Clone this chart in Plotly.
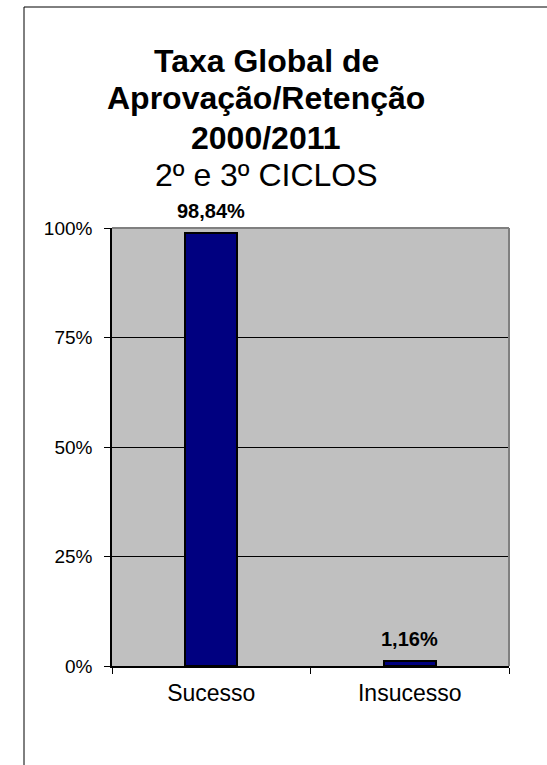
import plotly.graph_objects as go

categories = ["Sucesso", "Insucesso"]
values = [98.84, 1.16]
y_ticks = [0, 25, 50, 75, 100]
y_tick_labels = ["0%", "25%", "50%", "75%", "100%"]
title_bold = ["Taxa Global de", "Aprovação/Retenção", "2000/2011"]
subtitle = "2º e 3º CICLOS"

W, H = 547, 765
L, R, T, B = 112, 509, 228, 666  # plot area in pixels
PW, PH = R - L, B - T


def px_x(p):
    return (p - L) / PW


def px_y(p):
    return (B - p) / PH


FONT = "Liberation Sans, Arial, sans-serif"

fig = go.Figure()
fig.add_trace(go.Bar(
    x=categories, y=values, width=0.26,
    marker=dict(color="#000080", line=dict(color="black", width=2)),
    hoverinfo="skip",
))

labels = [f"{v:.2f}".replace(".", ",") + "%" for v in values]
for c, v, t in zip(categories, values, labels):
    fig.add_annotation(x=c, y=v, xref="x", yref="y", text=f"<b>{t}</b>",
                       showarrow=False, yanchor="middle", yshift=22,
                       font=dict(family=FONT, size=20, color="black"))

title_y = [61.5, 98.5, 137.5, 175]
for i, line in enumerate(title_bold):
    fig.add_annotation(x=px_x(266), y=px_y(title_y[i]), xref="paper", yref="paper",
                       text=f"<b>{line}</b>", showarrow=False, xanchor="center", yanchor="middle",
                       font=dict(family=FONT, size=32, color="black"))
fig.add_annotation(x=px_x(266), y=px_y(title_y[3]), xref="paper", yref="paper",
                   text=subtitle, showarrow=False, xanchor="center", yanchor="middle",
                   font=dict(family=FONT, size=32, color="black"))

# outer chart border (left and top visible)
fig.add_shape(type="rect", xref="paper", yref="paper",
              x0=px_x(24), y0=px_y(800), x1=px_x(600), y1=px_y(7),
              line=dict(color="black", width=1), layer="below")
# plot-area gray border top & right
fig.add_shape(type="line", xref="paper", yref="paper", x0=0, x1=1, y0=1, y1=1,
              line=dict(color="#808080", width=2), layer="above")
fig.add_shape(type="line", xref="paper", yref="paper", x0=1, x1=1, y0=0, y1=1,
              line=dict(color="#808080", width=2), layer="above")

fig.update_layout(
    width=W, height=H,
    margin=dict(l=L, r=W - R, t=T, b=H - B, pad=0),
    paper_bgcolor="white", plot_bgcolor="#C0C0C0",
    showlegend=False, bargap=0,
    font=dict(family=FONT, color="black"),
)
fig.update_xaxes(
    type="category", tickson="boundaries", ticks="outside", ticklen=6, tickwidth=1,
    tickcolor="black", showline=True, linecolor="black", linewidth=1.5,
    showgrid=False, tickfont=dict(family=FONT, size=23, color="black"),
    ticklabelstandoff=6,
)
fig.update_yaxes(
    range=[0, 100], tickvals=y_ticks, ticktext=y_tick_labels,
    ticks="outside", ticklen=6, tickwidth=1, tickcolor="black",
    showline=True, linecolor="black", linewidth=1.5,
    showgrid=True, gridcolor="black", gridwidth=1, zeroline=False,
    tickfont=dict(family=FONT, size=19, color="black"),
    ticklabelstandoff=8,
)

fig.write_html("out.html", config={"displayModeBar": False},
               post_script="document.body.style.margin='0';")
